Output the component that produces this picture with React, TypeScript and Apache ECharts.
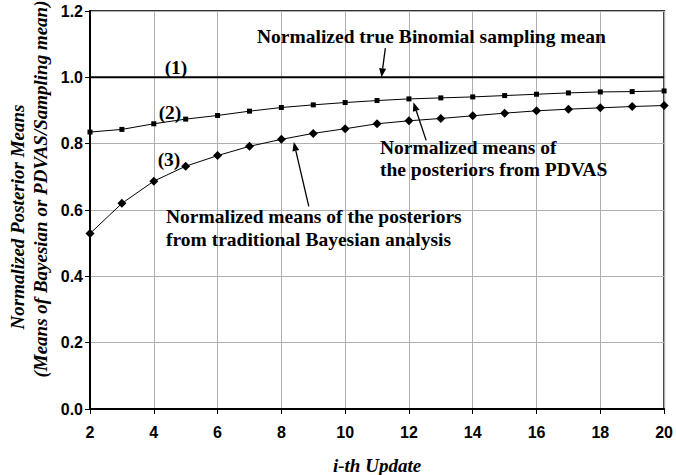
import React, { useEffect, useRef } from "react";
import * as echarts from "echarts";

// Update index (i-th update)
const updates: number[] = [2, 3, 4, 5, 6, 7, 8, 9, 10, 11, 12, 13, 14, 15, 16, 17, 18, 19, 20];

// (1) Normalized true Binomial sampling mean
const trueMean: number[] = [1, 1, 1, 1, 1, 1, 1, 1, 1, 1, 1, 1, 1, 1, 1, 1, 1, 1, 1];

// (2) Normalized means of the posteriors from PDVAS
const pdvasMeans: number[] = [
  0.835, 0.843, 0.86, 0.874, 0.885, 0.898, 0.909, 0.917, 0.924, 0.93,
  0.935, 0.938, 0.941, 0.945, 0.949, 0.953, 0.956, 0.957, 0.959,
];

// (3) Normalized means of the posteriors from traditional Bayesian analysis
const bayesMeans: number[] = [
  0.529, 0.62, 0.687, 0.732, 0.764, 0.792, 0.813, 0.831, 0.845, 0.86,
  0.869, 0.876, 0.884, 0.892, 0.899, 0.904, 0.908, 0.912, 0.915,
];

const SERIF = "'Liberation Serif', 'Times New Roman', serif";
const SANS = "'Liberation Sans', Arial, sans-serif";

const pairs = (ys: number[]) => updates.map((x, i) => [x, ys[i]]);

export default function App() {
  const ref = useRef<HTMLDivElement>(null);

  useEffect(() => {
    if (!ref.current) return;
    const chart = echarts.init(ref.current, null, { renderer: "svg" });

    chart.setOption({
      animation: false,
      backgroundColor: "#ffffff",
      grid: {
        left: 90,
        right: 9,
        top: 11,
        bottom: 66,
        show: true,
        borderColor: "#333333",
        borderWidth: 2,
      },
      xAxis: {
        type: "value",
        min: 2,
        max: 20,
        interval: 2,
        axisLine: { show: true, onZero: false, lineStyle: { color: "#000", width: 2 } },
        axisTick: { show: true, inside: false, length: 5, lineStyle: { color: "#000", width: 1 } },
        axisLabel: {
          margin: 15,
          color: "#000",
          fontFamily: SANS,
          fontWeight: "bold",
          fontSize: 16,
        },
        splitLine: { show: true, lineStyle: { color: "#b0b0b0", width: 1 } },
      },
      yAxis: {
        type: "value",
        min: 0,
        max: 1.2,
        interval: 0.2,
        axisLine: { show: true, lineStyle: { color: "#000", width: 2 } },
        axisTick: { show: true, inside: false, length: 5, lineStyle: { color: "#000", width: 1 } },
        axisLabel: {
          margin: 7,
          color: "#000",
          fontFamily: SANS,
          fontWeight: "bold",
          fontSize: 16,
          formatter: (v: number) => v.toFixed(1),
        },
        splitLine: { show: true, lineStyle: { color: "#b0b0b0", width: 1 } },
      },
      series: [
        {
          name: "(1)",
          type: "line",
          data: pairs(trueMean),
          showSymbol: false,
          symbol: "none",
          lineStyle: { color: "#000", width: 2 },
          z: 3,
        },
        {
          name: "(2)",
          type: "line",
          data: pairs(pdvasMeans),
          symbol: "rect",
          symbolSize: 5,
          itemStyle: { color: "#000" },
          lineStyle: { color: "#000", width: 1 },
          z: 4,
        },
        {
          name: "(3)",
          type: "line",
          data: pairs(bayesMeans),
          symbol: "diamond",
          symbolSize: 9,
          itemStyle: { color: "#000" },
          lineStyle: { color: "#000", width: 1 },
          z: 4,
        },
      ],
    });

    const px = (x: number, y: number) => chart.convertToPixel({ gridIndex: 0 }, [x, y]) as number[];

    // Arrow from tail to head, with a filled head
    const arrow = (tail: number[], head: number[]) => {
      const [x1, y1] = px(tail[0], tail[1]);
      const [x2, y2] = px(head[0], head[1]);
      const ang = Math.atan2(y2 - y1, x2 - x1);
      const len = 9;
      const half = 3.5;
      const bx = x2 - len * Math.cos(ang);
      const by = y2 - len * Math.sin(ang);
      const nx = -Math.sin(ang);
      const ny = Math.cos(ang);
      return [
        {
          type: "line",
          shape: { x1, y1, x2: bx, y2: by },
          style: { stroke: "#000", lineWidth: 1.3 },
          z: 10,
        },
        {
          type: "polygon",
          shape: {
            points: [
              [x2, y2],
              [bx + half * nx, by + half * ny],
              [bx - half * nx, by - half * ny],
            ],
          },
          style: { fill: "#000" },
          z: 10,
        },
      ];
    };

    const label = (text: string, x: number, y: number, align: string, size = 19.5) => ({
      type: "text",
      x,
      y,
      style: {
        text,
        fill: "#000",
        font: `bold ${size}px ${SERIF}`,
        textAlign: align,
        textVerticalAlign: "middle",
      },
      z: 11,
    });

    const plotCenterX = (px(2, 0)[0] + px(20, 0)[0]) / 2;

    chart.setOption({
      graphic: [
        label("Normalized true Binomial sampling mean", 257, 36, "left"),
        ...arrow([11.26, 1.088], [11.14, 1.0]),
        label("(1)", 176, 67, "center"),
        label("(2)", 170, 112, "center"),
        label("(3)", 169, 159, "center"),
        label("Normalized means of", 380, 147, "left"),
        label("the posteriors from PDVAS", 380, 169, "left"),
        ...arrow([12.54, 0.81], [12.14, 0.925]),
        label("Normalized means of the posteriors", 166, 216, "left"),
        label("from traditional Bayesian analysis", 166, 239, "left"),
        ...arrow([8.86, 0.611], [8.39, 0.805]),
        {
          type: "text",
          x: plotCenterX,
          y: 465,
          style: {
            text: "i-th Update",
            fill: "#000",
            font: `italic bold 19px ${SERIF}`,
            textAlign: "center",
            textVerticalAlign: "middle",
          },
        },
        {
          type: "text",
          x: 17,
          y: 217,
          rotation: Math.PI / 2,
          style: {
            text: "Normalized Posterior Means",
            fill: "#000",
            font: `italic bold 19px ${SERIF}`,
            textAlign: "center",
            textVerticalAlign: "middle",
          },
        },
        {
          type: "text",
          x: 40,
          y: 189,
          rotation: Math.PI / 2,
          style: {
            text: "(Means of Bayesian or PDVAS/Sampling mean)",
            fill: "#000",
            font: `italic bold 19px ${SERIF}`,
            textAlign: "center",
            textVerticalAlign: "middle",
          },
        },
      ],
    });

    return () => chart.dispose();
  }, []);

  return (
    <div
      ref={ref}
      style={{ position: "fixed", left: 0, top: 0, width: 676, height: 475, background: "#fff" }}
    />
  );
}
